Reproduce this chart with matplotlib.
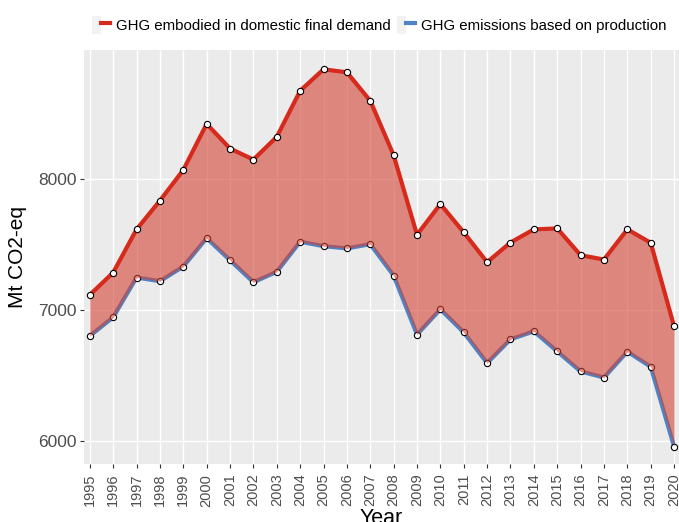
import numpy as np
import matplotlib.pyplot as plt
from matplotlib.lines import Line2D
from matplotlib.patches import Patch
from matplotlib.legend_handler import HandlerTuple

plt.rcParams['font.family'] = ['Liberation Sans', 'DejaVu Sans']

# data (Mt CO2-eq)
years = list(range(1995, 2021))
demand = [7114, 7284, 7613, 7832, 8066, 8417, 8229, 8145, 8318, 8669,
          8833, 8810, 8593, 8178, 7572, 7806, 7590, 7363, 7513, 7613,
          7620, 7416, 7383, 7613, 7511, 6874]
production = [6801, 6943, 7246, 7218, 7330, 7546, 7378, 7210, 7290, 7519,
              7485, 7468, 7500, 7261, 6811, 7004, 6828, 6594, 6775, 6836,
              6683, 6530, 6484, 6681, 6566, 5957]
y_ticks = [6000, 7000, 8000]

red = '#D52A1C'
blue = '#4F83C4'
fill_col = '#D24334'

fig = plt.figure(figsize=(6.79, 5.22), dpi=100)
ax = fig.add_axes([83.5 / 679, 58 / 522, (679 - 83.5) / 679, (464 - 50) / 522])
ax.set_facecolor('#EBEBEB')

# production line first, then the band over it, then the demand line on top
ax.plot(years, production, color=blue, lw=3, zorder=3, solid_joinstyle='round')
ax.plot(years, production, 'o', ms=4.5, mfc='white', mec='black', mew=0.8, zorder=4)
ax.fill_between(years, production, demand, color=fill_col, alpha=0.6, lw=0, zorder=5)
ax.plot(years, demand, color=red, lw=3, zorder=6, solid_joinstyle='round')
ax.plot(years, demand, 'o', ms=4.5, mfc='white', mec='black', mew=0.8, zorder=7)

ax.set_xlim(1994.73, 2020.21)
ax.set_ylim(5825, 8980)
ax.set_xticks(years)
ax.set_xticklabels([str(y) for y in years], rotation=90, fontsize=10.5, color='#4D4D4D')
ax.set_yticks(y_ticks)
ax.set_yticklabels([str(v) for v in y_ticks], fontsize=12.5, color='#4D4D4D')
ax.tick_params(axis='both', length=3, width=0.8, color='#333333', pad=2)
ax.tick_params(axis='x', pad=4)
ax.grid(True, color='white', lw=1)
ax.set_axisbelow(True)
for s in ax.spines.values():
    s.set_visible(False)

ax.set_ylabel('Mt CO2-eq', fontsize=15, labelpad=8)
ax.set_xlabel('Year', fontsize=15.5, labelpad=1)

h1 = (Patch(facecolor='#F2F2F2', edgecolor='none'), Line2D([], [], color=red, lw=3))
h2 = (Patch(facecolor='#F2F2F2', edgecolor='none'), Line2D([], [], color=blue, lw=3))
fig.legend([h1, h2], ['GHG embodied in domestic final demand', 'GHG emissions based on production'],
           handler_map={tuple: HandlerTuple(ndivide=None, pad=0)},
           loc='center right', bbox_to_anchor=(0.995, 1 - 25 / 522), ncol=2, frameon=False,
           fontsize=10.8, handlelength=1.2, handleheight=1.4, handletextpad=0.4, columnspacing=0.4,
           borderpad=0.1)

fig.savefig('out.png', dpi=100)
